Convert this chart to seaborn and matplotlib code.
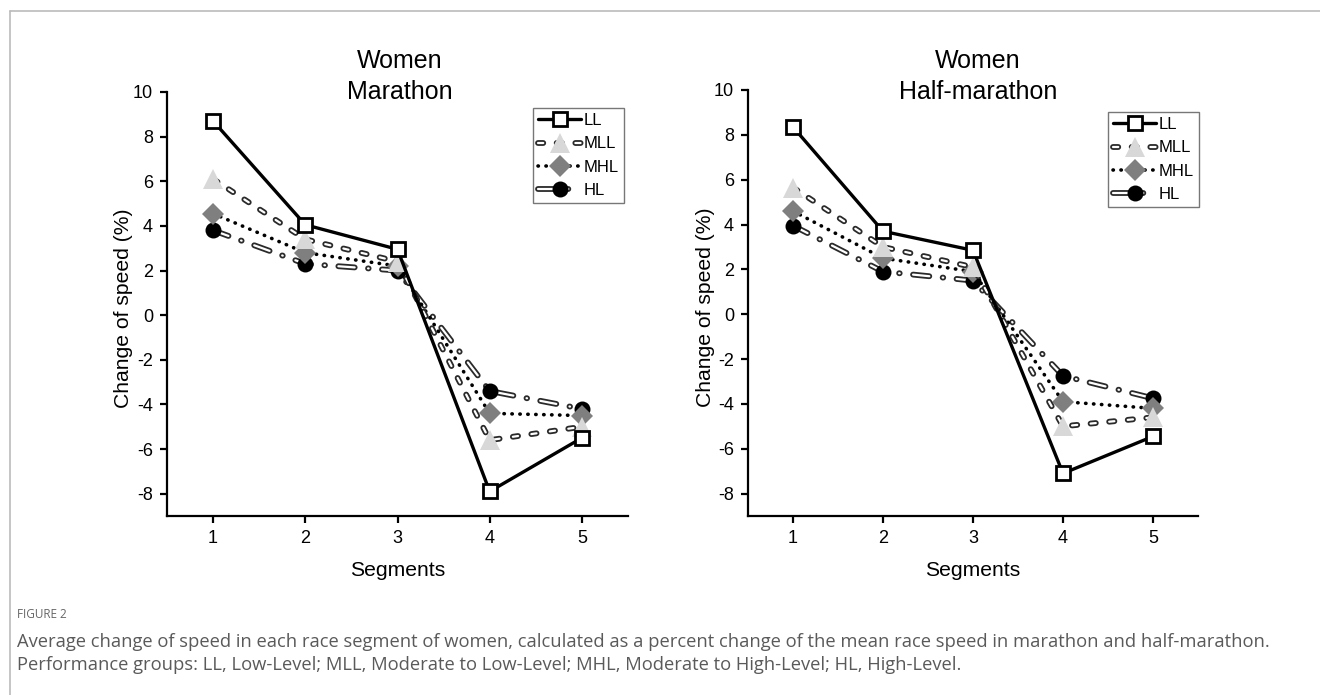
import numpy as np
import pandas as pd
import matplotlib
matplotlib.use("Agg")
import matplotlib.pyplot as plt
import matplotlib.patheffects as pe
from matplotlib.lines import Line2D
import seaborn as sns

# ---------------- data ----------------
segments = [1, 2, 3, 4, 5]
groups = ["LL", "MLL", "MHL", "HL"]

marathon_LL = [8.7, 4.05, 2.95, -7.9, -5.5]
marathon_MLL = [6.1, 3.4, 2.4, -5.6, -5.0]
marathon_MHL = [4.55, 2.8, 2.2, -4.4, -4.5]
marathon_HL = [3.8, 2.3, 2.0, -3.4, -4.2]

half_LL = [8.35, 3.7, 2.85, -7.1, -5.45]
half_MLL = [5.65, 3.0, 2.1, -5.0, -4.6]
half_MHL = [4.6, 2.5, 1.9, -3.9, -4.2]
half_HL = [3.95, 1.9, 1.5, -2.75, -3.75]

panel_titles = ["Women\nMarathon", "Women\nHalf-marathon"]
y_ticks = [-8, -6, -4, -2, 0, 2, 4, 6, 8, 10]

caption_label = "FIGURE 2"
caption_text = ("Average change of speed in each race segment of women, calculated as a percent change of the mean race speed in marathon and half-marathon.\n"
                "Performance groups: LL, Low-Level; MLL, Moderate to Low-Level; MHL, Moderate to High-Level; HL, High-Level.")

# ---------------- style ----------------
sns.set_theme(style="ticks")
plt.rcParams["font.family"] = ["Liberation Sans", "DejaVu Sans"]
plt.rcParams["axes.unicode_minus"] = False
plt.rcParams["text.color"] = "black"
plt.rcParams["axes.labelcolor"] = "black"

hollow = [pe.Stroke(linewidth=4.2, foreground="#2a2a2a", capstyle="round"),
          pe.Stroke(linewidth=1.6, foreground="white", capstyle="round")]

styles = {
    "LL": dict(color="black", lw=2.4, ls="-", cap="butt", marker="s", ms=9.5, mfc="white",
               mec="black", mew=2.0, pe=None),
    "MLL": dict(color="#2a2a2a", lw=4.2, ls=(0, (0.9, 2.3)), cap="round", marker="^", ms=14.5,
                mfc="#d8d8d8", mec="#d8d8d8", mew=0, pe=hollow),
    "MHL": dict(color="black", lw=2.6, ls=(0, (0.1, 2.1)), cap="round", marker="D", ms=11.5,
                mfc="#7f7f7f", mec="#7f7f7f", mew=0, pe=None),
    "HL": dict(color="#2a2a2a", lw=4.2, ls=(0, (2.8, 2.3, 0.1, 2.3)), cap="round", marker="o", ms=11.5,
               mfc="black", mec="black", mew=0, pe=hollow),
}

fig = plt.figure(figsize=(13.2, 6.95), dpi=100)
fig.patch.set_facecolor("white")

W, H = 1320, 695
def ax_rect(x0, x1, ytop, ybot):
    return [x0 / W, 1 - ybot / H, (x1 - x0) / W, (ybot - ytop) / H]

ax1 = fig.add_axes(ax_rect(167, 628, 92, 516))
ax2 = fig.add_axes(ax_rect(748, 1198, 90, 516))

panels = [
    (ax1, {"LL": marathon_LL, "MLL": marathon_MLL, "MHL": marathon_MHL, "HL": marathon_HL},
     panel_titles[0], (0.794, 0.962), (0.505, 0.972)),
    (ax2, {"LL": half_LL, "MLL": half_MLL, "MHL": half_MHL, "HL": half_HL},
     panel_titles[1], (0.80, 0.948), (0.511, 0.966)),
]

for ax, data, title, leg_pos, title_pos in panels:
    z = 2
    for g in groups[::-1]:
        st = styles[g]
        df = pd.DataFrame({"Segment": segments, "Value": data[g]})
        # connecting line
        sns.lineplot(data=df, x="Segment", y="Value", ax=ax, color=st["color"],
                     lw=st["lw"], linestyle=st["ls"], dash_capstyle=st["cap"],
                     zorder=z, legend=False)
        line = ax.lines[-1]
        if st["pe"] is not None:
            line.set_path_effects(st["pe"])
        # markers
        sns.lineplot(data=df, x="Segment", y="Value", ax=ax, linestyle="none",
                     marker=st["marker"], markersize=st["ms"], markerfacecolor=st["mfc"],
                     markeredgecolor=st["mec"], markeredgewidth=st["mew"],
                     zorder=z + 0.5, legend=False)
        z += 1
    # legend handles in order
    handles = []
    for g in groups:
        st = styles[g]
        hl = Line2D([], [], color=st["color"], lw=st["lw"], linestyle=st["ls"],
                    dash_capstyle=st["cap"])
        if st["pe"] is not None:
            hl.set_path_effects(st["pe"])
        hm = Line2D([], [], linestyle="none", marker=st["marker"], markersize=st["ms"],
                    markerfacecolor=st["mfc"], markeredgecolor=st["mec"],
                    markeredgewidth=st["mew"])
        handles.append((hl, hm))
    leg = ax.legend(handles=handles, labels=groups, loc="upper left", bbox_to_anchor=leg_pos,
                    borderaxespad=0, frameon=True, fancybox=False, fontsize=12,
                    handlelength=2.6, handletextpad=0.15, labelspacing=0.5,
                    borderpad=0.3, numpoints=1)
    leg.get_frame().set_edgecolor("#555555")
    leg.get_frame().set_linewidth(1.0)

    ax.set_xlim(0.5, 5.5)
    ax.set_ylim(-9, 10)
    ax.set_xticks(segments)
    ax.set_yticks(y_ticks)
    ax.tick_params(axis="both", direction="out", length=5, width=1.6, labelsize=13,
                   color="black", labelcolor="black", pad=5)
    for side in ["top", "right"]:
        ax.spines[side].set_visible(False)
    for side in ["left", "bottom"]:
        ax.spines[side].set_linewidth(1.6)
        ax.spines[side].set_color("black")
    ax.set_xlabel("Segments", fontsize=15.2, labelpad=10)
    ax.set_ylabel("Change of speed (%)", fontsize=15.2)
    ax.yaxis.set_label_coords(-0.074, 0.49)
    ax.text(title_pos[0], title_pos[1], title, transform=ax.transAxes, ha="center", va="bottom",
            fontsize=18, linespacing=1.38, color="black")
    ax.set_facecolor("white")

# caption
fig.text(17 / W, 1 - 615 / H, caption_label, fontsize=8.5, color="#666666",
         family=["Open Sans", "DejaVu Sans"], va="center", ha="left")
fig.text(17 / W, 1 - 633 / H, caption_text, fontsize=13.2, color="#5a5a5a",
         family=["Open Sans", "DejaVu Sans"], va="top", ha="left", linespacing=1.33)

# outer border (top and left)
fig.add_artist(Line2D([10 / W, 10 / W], [0, 1 - 11 / H], transform=fig.transFigure,
                      color="#bbbbbb", lw=1.2))
fig.add_artist(Line2D([10 / W, 1], [1 - 11 / H, 1 - 11 / H], transform=fig.transFigure,
                      color="#bbbbbb", lw=1.2))

fig.savefig("out.png", dpi=100, facecolor="white")
